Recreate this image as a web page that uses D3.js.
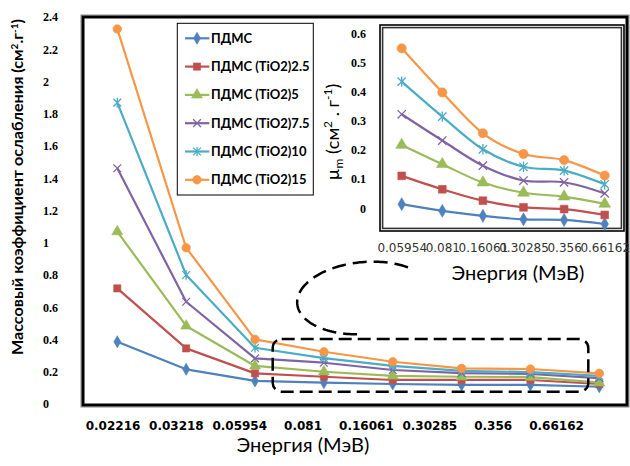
<!DOCTYPE html>
<html><head><meta charset="utf-8">
<script src="https://cdnjs.cloudflare.com/ajax/libs/d3/7.8.5/d3.min.js"></script>
<style>html,body{margin:0;padding:0;background:#fff;} svg{display:block;}</style>
</head><body>
<svg id="chart" width="630" height="466"></svg>
<script>
// Mass attenuation coefficient of PDMS / TiO2 composites vs photon energy
const energies = ["0.02216","0.03218","0.05954","0.081","0.16061","0.30285","0.356","0.66162"];
const seriesNames = ["ПДМС","ПДМС (TiO2)2.5","ПДМС (TiO2)5","ПДМС (TiO2)7.5","ПДМС (TiO2)10","ПДМС (TiO2)15"];
const pdms   = [0.386,0.215,0.143,0.132,0.124,0.118,0.118,0.107];
const pdms25 = [0.717,0.345,0.190,0.169,0.149,0.149,0.149,0.124];
const pdms5  = [1.069,0.484,0.236,0.200,0.174,0.169,0.167,0.132];
const pdms75 = [1.462,0.634,0.283,0.256,0.211,0.192,0.186,0.161];
const pdms10 = [1.869,0.800,0.349,0.285,0.236,0.205,0.198,0.174];
const pdms15 = [2.326,0.969,0.401,0.324,0.262,0.221,0.217,0.190];
const yTicksMain = [0,0.2,0.4,0.6,0.8,1,1.2,1.4,1.6,1.8,2,2.2,2.4];

// Zoomed view of the high-energy part
const insetEnergies = ["0.05954","0.081","0.16061","0.30285","0.356","0.66162"];
const insetPdms   = [0.014,-0.009,-0.026,-0.038,-0.040,-0.054];
const insetPdms25 = [0.111,0.065,0.026,0.003,-0.003,-0.023];
const insetPdms5  = [0.217,0.151,0.088,0.053,0.040,0.015];
const insetPdms75 = [0.322,0.232,0.146,0.095,0.089,0.051];
const insetPdms10 = [0.434,0.314,0.202,0.142,0.129,0.082];
const insetPdms15 = [0.548,0.397,0.257,0.186,0.165,0.112];
const yTicksInset = [0,0.1,0.2,0.3,0.4,0.5,0.6];

const mainSeries  = [pdms, pdms25, pdms5, pdms75, pdms10, pdms15];
const insetSeries = [insetPdms, insetPdms25, insetPdms5, insetPdms75, insetPdms10, insetPdms15];

const colors = ["#4F81BD","#C0504D","#9BBB59","#8064A2","#4BACC6","#F79646"];

// Marker shapes: diamond, square, triangle, cross, star, circle
const symTimes = {draw(c, s){const r=Math.sqrt(s)/2; c.moveTo(-r,-r);c.lineTo(r,r);c.moveTo(-r,r);c.lineTo(r,-r);}};
const symStar = {draw(c, s){const r=Math.sqrt(s)/2; c.moveTo(-r,-r);c.lineTo(r,r);c.moveTo(-r,r);c.lineTo(r,-r);c.moveTo(0,-r*1.25);c.lineTo(0,r*1.25);}};
const markers = [
  {type: d3.symbolDiamond, size: 42, fill: true},
  {type: d3.symbolSquare, size: 52, fill: true},
  {type: d3.symbolTriangle, size: 52, fill: true},
  {type: symTimes, size: 60, fill: false},
  {type: symStar, size: 60, fill: false},
  {type: d3.symbolCircle, size: 58, fill: true}
];

const svg = d3.select("#chart");

function drawMarker(g, x, y, i, scale) {
  const m = markers[i];
  const p = d3.symbol().type(m.type).size(m.size * (scale || 1))();
  g.append("path").attr("d", p).attr("transform", `translate(${x},${y})`)
    .attr("fill", m.fill ? colors[i] : "none")
    .attr("stroke", colors[i]).attr("stroke-width", m.fill ? 0.6 : 1.3);
}

function drawSeries(g, xs, ys, domain, values, i, curve, mscale) {
  const line = d3.line().x((d, k) => xs(domain[k])).y(d => ys(d)).curve(curve);
  g.append("path").datum(values).attr("d", line)
    .attr("fill", "none").attr("stroke", colors[i]).attr("stroke-width", 2.2)
    .attr("stroke-linejoin", "round");
  values.forEach((v, k) => drawMarker(g, xs(domain[k]), ys(v), i, mscale));
}

// ---------- main chart ----------
const frame = {x0: 83, y0: 17, x1: 627, y1: 405};
const yMain = d3.scaleLinear().domain([0, 2.4]).range([404, 17]);
const xMain = d3.scalePoint().domain(energies).range([117.3, 599.3]);
const xMainLabels = d3.scalePoint().domain(energies).range([112.5, 556]);

svg.append("rect").attr("x", frame.x0 - 2).attr("y", frame.y0 - 2)
  .attr("width", frame.x1 - frame.x0 + 4).attr("height", frame.y1 - frame.y0 + 4)
  .attr("fill", "none").attr("stroke", "#888").attr("stroke-width", 1);
svg.append("rect").attr("x", frame.x0).attr("y", frame.y0)
  .attr("width", frame.x1 - frame.x0).attr("height", frame.y1 - frame.y0)
  .attr("fill", "#fff").attr("stroke", "#000").attr("stroke-width", 3);

const gMain = svg.append("g");
mainSeries.forEach((vals, i) => drawSeries(gMain, xMain, yMain, energies, vals, i, d3.curveLinear, 1));

// y tick labels (left aligned)
const yAxisMain = svg.append("g").attr("transform", "translate(43,0)")
  .call(d3.axisLeft(yMain).tickValues(yTicksMain).tickSize(0).tickFormat(d => String(d)));
yAxisMain.select(".domain").remove();
yAxisMain.selectAll("text").attr("x", 0).attr("text-anchor", "start")
  .attr("font-family", "'Liberation Serif', serif").attr("font-weight", "bold")
  .attr("font-size", 12).attr("fill", "#000");

// x tick labels
const xAxisMain = svg.append("g").attr("transform", "translate(0,421)")
  .call(d3.axisBottom(xMainLabels).tickSize(0));
xAxisMain.select(".domain").remove();
xAxisMain.selectAll("text").attr("y", 0).attr("dy", "0.71em")
  .attr("font-family", "'DejaVu Sans', sans-serif").attr("font-weight", "bold")
  .attr("font-size", 12).attr("fill", "#000");

svg.append("text").attr("x", 303).attr("y", 452).attr("text-anchor", "middle")
  .attr("font-family", "Lato, sans-serif").attr("font-size", 20).attr("fill", "#000")
  .text("Энергия (МэВ)");

const yTitle = svg.append("text").attr("transform", "translate(23,187) rotate(-90)")
  .attr("text-anchor", "middle").attr("font-family", "Lato, sans-serif")
  .attr("font-weight", "bold").attr("font-size", 14.5).attr("fill", "#000")
  .attr("textLength", 336).attr("lengthAdjust", "spacingAndGlyphs");
yTitle.append("tspan").text("Массовый коэффициент ослабления (см");
yTitle.append("tspan").attr("dy", -5).attr("font-size", 9).text("2");
yTitle.append("tspan").attr("dy", 5).text(".г");
yTitle.append("tspan").attr("dy", -5).attr("font-size", 9).text("-1");
yTitle.append("tspan").attr("dy", 5).text(")");

// dashed highlight around the high-energy region
svg.append("rect").attr("x", 272.7).attr("y", 339).attr("width", 315.6).attr("height", 52.7)
  .attr("rx", 9).attr("fill", "none").attr("stroke", "#000").attr("stroke-width", 2.5)
  .attr("stroke-dasharray", "13,6");

// dashed callout arc
const ell = {cx: 365, cy: 298, a: 68, b: 36, rot: -5 * Math.PI / 180};
const angles = d3.range(-48, -266, -2).map(d => d * Math.PI / 180);
const arcLine = d3.line()
  .x(t => ell.cx + ell.a * Math.cos(t) * Math.cos(ell.rot) - ell.b * Math.sin(t) * Math.sin(ell.rot))
  .y(t => ell.cy + ell.a * Math.cos(t) * Math.sin(ell.rot) + ell.b * Math.sin(t) * Math.cos(ell.rot));
svg.append("path").attr("d", arcLine(angles)).attr("fill", "none")
  .attr("stroke", "#000").attr("stroke-width", 2.5).attr("stroke-dasharray", "14,7");

// legend
const leg = svg.append("g");
leg.append("rect").attr("x", 177.3).attr("y", 23.3).attr("width", 136).attr("height", 171.7)
  .attr("fill", "#fff").attr("stroke", "#000").attr("stroke-width", 1);
seriesNames.forEach((name, i) => {
  const y = 38.3 + 28.3 * i;
  leg.append("line").attr("x1", 185).attr("x2", 209.3).attr("y1", y).attr("y2", y)
    .attr("stroke", colors[i]).attr("stroke-width", 2.2);
  drawMarker(leg, 197, y, i, 1);
  leg.append("text").attr("x", 211).attr("y", y).attr("dy", "0.35em")
    .attr("font-family", "Lato, sans-serif").attr("font-weight", "bold")
    .attr("font-size", 13).attr("fill", "#000").text(name);
});

// ---------- inset ----------
const inset = {x0: 380, y0: 25, x1: 624, y1: 231};
const yIn = d3.scaleLinear().domain([-0.078, 0.628]).range([231, 25]);
const xIn = d3.scalePoint().domain(insetEnergies).range([401.7, 604.7]);

svg.append("rect").attr("x", inset.x0).attr("y", inset.y0)
  .attr("width", inset.x1 - inset.x0).attr("height", inset.y1 - inset.y0)
  .attr("fill", "#fff").attr("stroke", "#000").attr("stroke-width", 1.6);
svg.append("rect").attr("x", inset.x0 + 2.6).attr("y", inset.y0 + 2.6)
  .attr("width", inset.x1 - inset.x0 - 5.2).attr("height", inset.y1 - inset.y0 - 5.2)
  .attr("fill", "none").attr("stroke", "#333").attr("stroke-width", 1.6);

const gIn = svg.append("g");
insetSeries.forEach((vals, i) => drawSeries(gIn, xIn, yIn, insetEnergies, vals, i, d3.curveCatmullRom.alpha(0), 1.15));

const yAxisIn = svg.append("g").attr("transform", "translate(366,0)")
  .call(d3.axisLeft(yIn).tickValues(yTicksInset).tickSize(0).tickFormat(d => String(d)));
yAxisIn.select(".domain").remove();
yAxisIn.selectAll("text").attr("x", 0).attr("text-anchor", "end")
  .attr("font-family", "'Liberation Serif', serif").attr("font-weight", "bold")
  .attr("font-size", 12).attr("fill", "#000");

// category labels of the zoomed view sit tightly side by side
const xAxisIn = svg.append("g").attr("transform", "translate(0,243)")
  .call(d3.axisBottom(xIn).tickSize(0));
xAxisIn.select(".domain").remove();
xAxisIn.selectAll("text").attr("y", 0).attr("dy", "0.71em")
  .attr("font-family", "'DejaVu Sans', sans-serif")
  .attr("font-size", 12).attr("fill", "#333");

svg.append("text").attr("x", 518).attr("y", 280).attr("text-anchor", "middle")
  .attr("font-family", "Lato, sans-serif").attr("font-size", 20).attr("fill", "#000")
  .text("Энергия (МэВ)");

const yTitleIn = svg.append("text").attr("transform", "translate(339,132) rotate(-90)")
  .attr("text-anchor", "middle").attr("font-family", "Lato, sans-serif")
  .attr("font-size", 18).attr("fill", "#000");
yTitleIn.append("tspan").text("µ");
yTitleIn.append("tspan").attr("dy", 4).attr("font-size", 12).text("m");
yTitleIn.append("tspan").attr("dy", -4).text(" (см");
yTitleIn.append("tspan").attr("dy", -7).attr("font-size", 12).text("2");
yTitleIn.append("tspan").attr("dy", 7).text(" . г");
yTitleIn.append("tspan").attr("dy", -7).attr("font-size", 12).text("-1");
yTitleIn.append("tspan").attr("dy", 7).text(")");
</script>
</body></html>
